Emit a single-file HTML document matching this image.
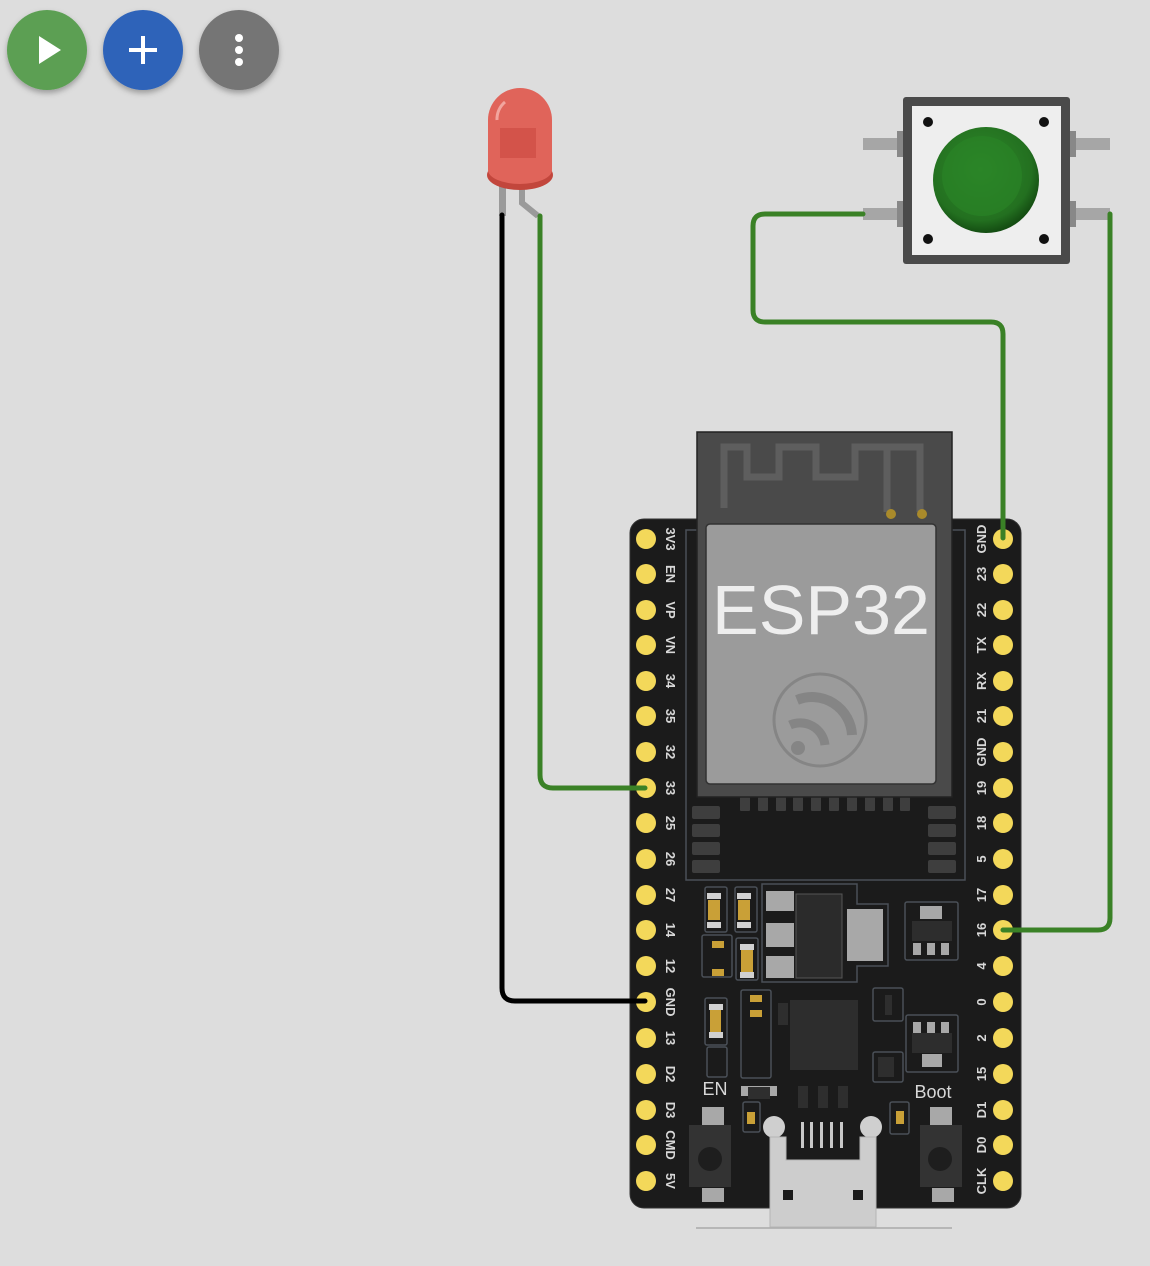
<!DOCTYPE html>
<html><head><meta charset="utf-8"><style>
html,body{margin:0;padding:0;background:#dddddd;}
svg{display:block;}
text{font-family:"Liberation Sans",sans-serif;}
</style></head><body>
<svg width="1150" height="1266" viewBox="0 0 1150 1266" xmlns="http://www.w3.org/2000/svg">
<defs>
<filter id="sh" x="-30%" y="-30%" width="160%" height="160%"><feDropShadow dx="0" dy="3" stdDeviation="3" flood-opacity="0.3"/></filter>
<radialGradient id="btn" cx="45%" cy="40%" r="60%"><stop offset="0" stop-color="#2f8a2a"/><stop offset="0.8" stop-color="#237020"/><stop offset="1" stop-color="#144d12"/></radialGradient>
</defs>
<rect width="1150" height="1266" fill="#dddddd"/>
<!-- toolbar buttons -->
<circle cx="47" cy="50" r="40" fill="#5b9f53" filter="url(#sh)"/>
<polygon points="39,36 39,64 61,50" fill="#fff"/>
<circle cx="143" cy="50" r="40" fill="#2d63b9" filter="url(#sh)"/>
<rect x="129" y="48" width="28" height="4" fill="#fff"/><rect x="141" y="36" width="4" height="28" fill="#fff"/>
<circle cx="239" cy="50" r="40" fill="#747474" filter="url(#sh)"/>
<circle cx="239" cy="38" r="4" fill="#fff"/><circle cx="239" cy="50" r="4" fill="#fff"/><circle cx="239" cy="62" r="4" fill="#fff"/>

<!-- ESP32 board -->
<rect x="630" y="519" width="391" height="689" rx="14" fill="#1b1b1b" stroke="#333" stroke-width="1"/>
<line x1="696" y1="1228" x2="952" y2="1228" stroke="#aaa" stroke-width="1.5"/>
<rect x="686" y="530" width="279" height="350" fill="none" stroke="#4a5058" stroke-width="1.5"/>
<!-- module pads -->
<g fill="#3e3e3e">
<rect x="692" y="806" width="28" height="13" rx="2"/><rect x="692" y="824" width="28" height="13" rx="2"/><rect x="692" y="842" width="28" height="13" rx="2"/><rect x="692" y="860" width="28" height="13" rx="2"/>
<rect x="928" y="806" width="28" height="13" rx="2"/><rect x="928" y="824" width="28" height="13" rx="2"/><rect x="928" y="842" width="28" height="13" rx="2"/><rect x="928" y="860" width="28" height="13" rx="2"/>
<rect x="740" y="797" width="10" height="14" rx="1"/><rect x="758" y="797" width="10" height="14" rx="1"/><rect x="776" y="797" width="10" height="14" rx="1"/><rect x="793" y="797" width="10" height="14" rx="1"/><rect x="811" y="797" width="10" height="14" rx="1"/><rect x="829" y="797" width="10" height="14" rx="1"/><rect x="847" y="797" width="10" height="14" rx="1"/><rect x="865" y="797" width="10" height="14" rx="1"/><rect x="883" y="797" width="10" height="14" rx="1"/><rect x="900" y="797" width="10" height="14" rx="1"/>
</g>
<rect x="697" y="432" width="255" height="365" fill="#4a4a4a" stroke="#222" stroke-width="1.5"/>
<path d="M724 508 V447 H747 V477 H779 V447 H816 V477 H855 V447 H920 V512 M887 447 V512" fill="none" stroke="#5e5e5e" stroke-width="7"/>
<circle cx="891" cy="514" r="5" fill="#a98a2b"/><circle cx="922" cy="514" r="5" fill="#a98a2b"/>
<rect x="706" y="524" width="230" height="260" rx="4" fill="#9b9b9b" stroke="#333" stroke-width="1.5"/>
<text x="821" y="634" font-size="70" fill="#eeeeee" text-anchor="middle">ESP32</text>
<g fill="none" stroke="#858585">
<circle cx="820" cy="720" r="46" stroke-width="3"/>
<path d="M797 700 A40 40 0 0 1 852 735" stroke-width="10"/>
<path d="M790 725 A25 25 0 0 1 825 745" stroke-width="9"/>
</g>
<circle cx="798" cy="748" r="7" fill="#858585"/>

<!-- lower components -->
<g stroke="#4a5058" stroke-width="1.5" fill="none">
<rect x="705" y="887" width="22" height="45" rx="2"/><rect x="735" y="887" width="22" height="45" rx="2"/>
<rect x="702" y="935" width="30" height="42" rx="2"/><rect x="736" y="938" width="22" height="42" rx="2"/>
<path d="M762 884 H857 V904 H888 V966 H857 V982 H762 Z"/>
<rect x="905" y="902" width="53" height="58" rx="2"/>
<rect x="705" y="998" width="22" height="47" rx="2"/><rect x="707" y="1047" width="20" height="30" rx="2"/>
<rect x="741" y="990" width="30" height="88" rx="2"/>
<rect x="873" y="988" width="30" height="33" rx="2"/><rect x="906" y="1015" width="52" height="57" rx="2"/>
<rect x="873" y="1052" width="30" height="30" rx="2"/>
<rect x="743" y="1102" width="17" height="30" rx="2"/><rect x="890" y="1102" width="19" height="32" rx="2"/>
</g>
<g fill="#c9a037">
<rect x="708" y="900" width="12" height="20"/><rect x="738" y="900" width="12" height="20"/>
<rect x="741" y="950" width="12" height="22"/><rect x="710" y="1010" width="11" height="22"/>
<rect x="712" y="941" width="12" height="7"/><rect x="712" y="969" width="12" height="7"/>
<rect x="750" y="995" width="12" height="7"/><rect x="750" y="1010" width="12" height="7"/>
<rect x="747" y="1112" width="8" height="12"/><rect x="896" y="1111" width="8" height="13"/>
</g>
<g fill="#d0d0d0">
<rect x="707" y="893" width="14" height="6"/><rect x="707" y="922" width="14" height="6"/>
<rect x="737" y="893" width="14" height="6"/><rect x="737" y="922" width="14" height="6"/>
<rect x="740" y="944" width="14" height="6"/><rect x="740" y="972" width="14" height="6"/>
<rect x="709" y="1004" width="14" height="6"/><rect x="709" y="1032" width="14" height="6"/>
</g>
<g fill="#a8a8a8">
<rect x="766" y="891" width="28" height="20"/><rect x="766" y="923" width="28" height="24"/><rect x="766" y="956" width="28" height="22"/>
<rect x="847" y="909" width="36" height="52"/>
<rect x="920" y="906" width="22" height="13"/><rect x="922" y="1054" width="20" height="13"/>
<rect x="913" y="943" width="8" height="12"/><rect x="927" y="943" width="8" height="12"/><rect x="941" y="943" width="8" height="12"/>
<rect x="913" y="1022" width="8" height="12"/><rect x="927" y="1022" width="8" height="12"/><rect x="941" y="1022" width="8" height="12"/>
<rect x="702" y="1107" width="22" height="18"/><rect x="702" y="1188" width="22" height="14"/>
<rect x="930" y="1107" width="22" height="18"/><rect x="932" y="1188" width="22" height="14"/>
<rect x="741" y="1086" width="36" height="10"/>
</g>
<rect x="796" y="894" width="46" height="84" fill="#2b2b2b" stroke="#555" stroke-width="1"/>
<rect x="912" y="921" width="40" height="20" fill="#2d2d2d"/><rect x="912" y="1033" width="40" height="20" fill="#2d2d2d"/>
<rect x="790" y="1000" width="68" height="70" fill="#2d2d2d"/>
<g fill="#333"><rect x="689" y="1125" width="42" height="62"/><rect x="920" y="1125" width="42" height="62"/></g>
<circle cx="710" cy="1159" r="12" fill="#1e1e1e"/><circle cx="940" cy="1159" r="12" fill="#1e1e1e"/>
<g fill="#2e2e2e"><rect x="748" y="1087" width="22" height="12"/><rect x="798" y="1086" width="10" height="22"/><rect x="818" y="1086" width="10" height="22"/><rect x="838" y="1086" width="10" height="22"/>
<rect x="778" y="1003" width="10" height="22"/><rect x="885" y="995" width="7" height="20"/><rect x="878" y="1057" width="16" height="20"/></g>
<text x="715" y="1095" font-size="18" fill="#d8d8d8" text-anchor="middle">EN</text>
<text x="933" y="1098" font-size="18" fill="#d8d8d8" text-anchor="middle">Boot</text>
<!-- USB -->
<g fill="#c8c8c8"><rect x="801" y="1122" width="3" height="26"/><rect x="810" y="1122" width="3" height="26"/><rect x="820" y="1122" width="3" height="26"/><rect x="830" y="1122" width="3" height="26"/><rect x="840" y="1122" width="3" height="26"/></g>
<circle cx="774" cy="1127" r="11" fill="#cfcfcf"/><circle cx="871" cy="1127" r="11" fill="#cfcfcf"/>
<path d="M770 1137 H786 V1160 H860 V1137 H876 V1227 H770 Z" fill="#cdcdcd" stroke="#b5b5b5"/>
<rect x="783" y="1190" width="10" height="10" fill="#1b1b1b"/><rect x="853" y="1190" width="10" height="10" fill="#1b1b1b"/>

<!-- pins -->
<g fill="#f3d85a">
<circle cx="646" cy="539" r="10"/><circle cx="646" cy="574" r="10"/><circle cx="646" cy="610" r="10"/><circle cx="646" cy="645" r="10"/><circle cx="646" cy="681" r="10"/><circle cx="646" cy="716" r="10"/><circle cx="646" cy="752" r="10"/><circle cx="646" cy="788" r="10"/><circle cx="646" cy="823" r="10"/><circle cx="646" cy="859" r="10"/><circle cx="646" cy="895" r="10"/><circle cx="646" cy="930" r="10"/><circle cx="646" cy="966" r="10"/><circle cx="646" cy="1002" r="10"/><circle cx="646" cy="1038" r="10"/><circle cx="646" cy="1074" r="10"/><circle cx="646" cy="1110" r="10"/><circle cx="646" cy="1145" r="10"/><circle cx="646" cy="1181" r="10"/>
<circle cx="1003" cy="539" r="10"/><circle cx="1003" cy="574" r="10"/><circle cx="1003" cy="610" r="10"/><circle cx="1003" cy="645" r="10"/><circle cx="1003" cy="681" r="10"/><circle cx="1003" cy="716" r="10"/><circle cx="1003" cy="752" r="10"/><circle cx="1003" cy="788" r="10"/><circle cx="1003" cy="823" r="10"/><circle cx="1003" cy="859" r="10"/><circle cx="1003" cy="895" r="10"/><circle cx="1003" cy="930" r="10"/><circle cx="1003" cy="966" r="10"/><circle cx="1003" cy="1002" r="10"/><circle cx="1003" cy="1038" r="10"/><circle cx="1003" cy="1074" r="10"/><circle cx="1003" cy="1110" r="10"/><circle cx="1003" cy="1145" r="10"/><circle cx="1003" cy="1181" r="10"/>
</g>
<g font-size="13" font-weight="bold" fill="#d8d8d8" text-anchor="middle">
<text transform="translate(666,539) rotate(90)">3V3</text><text transform="translate(666,574) rotate(90)">EN</text><text transform="translate(666,610) rotate(90)">VP</text><text transform="translate(666,645) rotate(90)">VN</text><text transform="translate(666,681) rotate(90)">34</text><text transform="translate(666,716) rotate(90)">35</text><text transform="translate(666,752) rotate(90)">32</text><text transform="translate(666,788) rotate(90)">33</text><text transform="translate(666,823) rotate(90)">25</text><text transform="translate(666,859) rotate(90)">26</text><text transform="translate(666,895) rotate(90)">27</text><text transform="translate(666,930) rotate(90)">14</text><text transform="translate(666,966) rotate(90)">12</text><text transform="translate(666,1002) rotate(90)">GND</text><text transform="translate(666,1038) rotate(90)">13</text><text transform="translate(666,1074) rotate(90)">D2</text><text transform="translate(666,1110) rotate(90)">D3</text><text transform="translate(666,1145) rotate(90)">CMD</text><text transform="translate(666,1181) rotate(90)">5V</text>
<text transform="translate(986,539) rotate(-90)">GND</text><text transform="translate(986,574) rotate(-90)">23</text><text transform="translate(986,610) rotate(-90)">22</text><text transform="translate(986,645) rotate(-90)">TX</text><text transform="translate(986,681) rotate(-90)">RX</text><text transform="translate(986,716) rotate(-90)">21</text><text transform="translate(986,752) rotate(-90)">GND</text><text transform="translate(986,788) rotate(-90)">19</text><text transform="translate(986,823) rotate(-90)">18</text><text transform="translate(986,859) rotate(-90)">5</text><text transform="translate(986,895) rotate(-90)">17</text><text transform="translate(986,930) rotate(-90)">16</text><text transform="translate(986,966) rotate(-90)">4</text><text transform="translate(986,1002) rotate(-90)">0</text><text transform="translate(986,1038) rotate(-90)">2</text><text transform="translate(986,1074) rotate(-90)">15</text><text transform="translate(986,1110) rotate(-90)">D1</text><text transform="translate(986,1145) rotate(-90)">D0</text><text transform="translate(986,1181) rotate(-90)">CLK</text>
</g>

<!-- pushbutton -->
<g fill="#a6a6a6"><rect x="863" y="138" width="42" height="12"/><rect x="863" y="208" width="42" height="12"/><rect x="1068" y="138" width="42" height="12"/><rect x="1068" y="208" width="42" height="12"/></g>
<g fill="#888"><rect x="897" y="131" width="7" height="26"/><rect x="897" y="201" width="7" height="26"/><rect x="1069" y="131" width="7" height="26"/><rect x="1069" y="201" width="7" height="26"/></g>
<rect x="903" y="97" width="167" height="167" rx="3" fill="#4a4a4a"/>
<rect x="912" y="106" width="149" height="149" fill="#eeeeee"/>
<circle cx="928" cy="122" r="5" fill="#111"/><circle cx="1044" cy="122" r="5" fill="#111"/><circle cx="928" cy="239" r="5" fill="#111"/><circle cx="1044" cy="239" r="5" fill="#111"/>
<circle cx="986" cy="180" r="53" fill="url(#btn)"/>
<circle cx="982" cy="176" r="40" fill="#2a8326" opacity="0.7"/>

<!-- LED -->
<rect x="499" y="180" width="7" height="36" fill="#9a9a9a"/>
<path d="M522 182 V203 L538 216" fill="none" stroke="#9a9a9a" stroke-width="6"/>
<ellipse cx="520" cy="175" rx="33" ry="15" fill="#c2463c"/>
<path d="M488 120 A32 32 0 0 1 552 120 V170 A32 14 0 0 1 488 170 Z" fill="#e0645a"/>
<rect x="500" y="128" width="36" height="30" fill="#c9483f" opacity="0.6"/>
<path d="M497 120 A22 22 0 0 1 505 102" stroke="#f2a59e" stroke-width="3" fill="none"/>

<!-- wires -->
<g fill="none" stroke-width="5" stroke-linecap="round" stroke-linejoin="round">
<path d="M502 215 V988 Q502 1001 515 1001 H645" stroke="#000"/>
<path d="M540 216 V775 Q540 788 553 788 H645" stroke="#3a8126"/>
<path d="M863 214 H765 Q753 214 753 226 V310 Q753 322 765 322 H991 Q1003 322 1003 334 V538" stroke="#3a8126"/>
<path d="M1110 214 V918 Q1110 930 1098 930 H1003" stroke="#3a8126"/>
</g>
</svg>
</body></html>
